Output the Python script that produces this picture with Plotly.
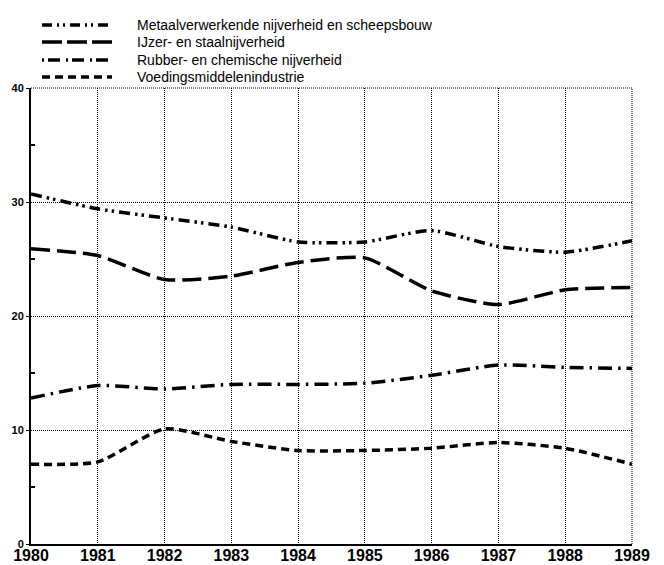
import plotly.graph_objects as go

years = [1980, 1981, 1982, 1983, 1984, 1985, 1986, 1987, 1988, 1989]

metaal = [30.7, 29.4, 28.6, 27.8, 26.5, 26.5, 27.5, 26.1, 25.6, 26.6]
ijzer = [25.9, 25.3, 23.2, 23.5, 24.7, 25.1, 22.2, 21.0, 22.3, 22.5]
rubber = [12.8, 13.9, 13.6, 14.0, 14.0, 14.1, 14.8, 15.7, 15.5, 15.4]
voeding = [7.0, 7.2, 10.1, 9.0, 8.2, 8.2, 8.4, 8.9, 8.4, 7.0]

names = [
    "Metaalverwerkende nijverheid en scheepsbouw",
    "IJzer- en staalnijverheid",
    "Rubber- en chemische nijverheid",
    "Voedingsmiddelenindustrie",
]
series = [metaal, ijzer, rubber, voeding]
dashes = [
    "11px,5px,2.5px,4px,2.5px,5px",
    "19px,7px",
    "14px,6px,2.5px,6px",
    "8px,5px",
]
legend_dashes = [
    "10px,5px,2px,4px,2px,5px",
    "20px,5px",
    "2px,4px,12px,6px",
    "8px,5px",
]

y_ticks = [0, 10, 20, 30, 40]

fig = go.Figure()
for name, vals, d in zip(names, series, dashes):
    fig.add_trace(go.Scatter(
        x=years, y=vals, mode="lines", name=name,
        line=dict(color="black", width=3.5, dash=d, shape="spline", smoothing=0.6),
        showlegend=False,
    ))

# page body has an 8px margin; figure sized to fit the window exactly
OFF = 8
W, H = 664 - OFF, 565 - OFF
# plot area in window pixels: x 31..632, y 88..544
L, R, T, B = 31 - OFF, 664 - 632, 88 - OFF, 565 - 544
pw, ph = W - L - R, H - T - B

def px_x(wx):
    return (wx - OFF - L) / pw

def px_y(wy):
    return (H - B - (wy - OFF)) / ph

row_y = [25, 42, 60, 77]
for name, d, ry in zip(names, legend_dashes, row_y):
    fig.add_shape(type="line", xref="paper", yref="paper",
                  x0=px_x(42), x1=px_x(112), y0=px_y(ry), y1=px_y(ry),
                  line=dict(color="black", width=3.5, dash=d))
    fig.add_annotation(xref="paper", yref="paper", x=px_x(135), y=px_y(ry),
                       text=name, showarrow=False, xanchor="left", yanchor="middle",
                       font=dict(family="Liberation Sans", size=14, color="black"))

# dotted frame on top and right (grid lines at the range ends)
fig.add_shape(type="line", xref="paper", yref="paper", x0=0, x1=1, y0=1, y1=1,
              line=dict(color="black", width=1, dash="1px,1px"))
fig.add_shape(type="line", xref="paper", yref="paper", x0=1, x1=1, y0=0, y1=1,
              line=dict(color="black", width=1, dash="1px,1px"))

fig.update_layout(
    width=W, height=H,
    margin=dict(l=L, r=R, t=T, b=B, autoexpand=False),
    paper_bgcolor="white", plot_bgcolor="white",
    showlegend=False,
)
fig.update_xaxes(
    range=[1980, 1989], tickmode="array", tickvals=years, ticktext=[str(y) for y in years],
    showgrid=True, gridcolor="black", gridwidth=1, griddash="1px,1px",
    showline=True, linecolor="black", linewidth=2,
    ticks="", ticklen=0, ticklabelstandoff=-4,
    tickfont=dict(family="Liberation Sans", size=16, color="black", weight="bold"),
    zeroline=False, automargin=False,
)
fig.update_yaxes(
    range=[0, 40], tickmode="array", tickvals=y_ticks, ticktext=[str(v) for v in y_ticks],
    showgrid=True, gridcolor="black", gridwidth=1, griddash="1px,1px",
    showline=True, linecolor="black", linewidth=2,
    ticks="outside", ticklen=3, tickcolor="black", tickwidth=1,
    tickfont=dict(family="Liberation Sans", size=11, color="black", weight="bold"),
    minor=dict(tickvals=[5, 15, 25, 35], ticks="inside", ticklen=4, tickcolor="black", tickwidth=1.5, showgrid=False),
    zeroline=False, automargin=False,
)

fig.write_html("out.html")
